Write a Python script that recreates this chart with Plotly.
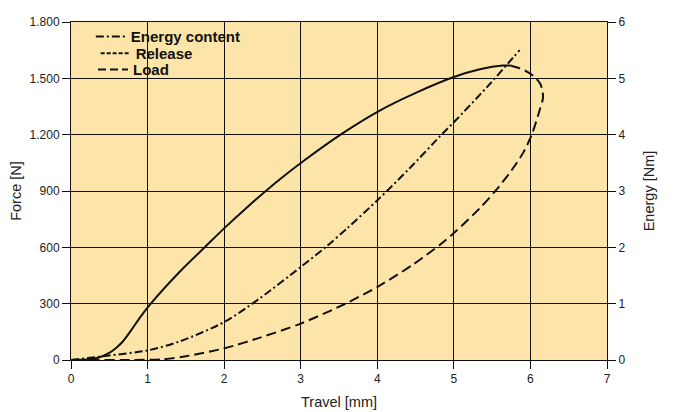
import plotly.graph_objects as go

# loading curve (solid)
load_x = [0, 0.2, 0.35, 0.5, 0.6, 0.68, 0.78, 0.9, 1.05, 1.42, 1.75, 2.01, 2.29, 2.54, 2.81, 3.01,
          3.53, 4.02, 4.51, 5.0, 5.34, 5.64, 5.74]
load_f = [0, 2, 12, 38, 68, 100, 155, 226, 304, 470, 602, 705, 810, 899, 989, 1052,
          1203, 1326, 1424, 1507, 1548, 1568, 1568]

# release curve (dashed) going back to origin
rel_x = [5.74, 5.86, 5.96, 6.04, 6.13, 6.165, 6.12, 6.02, 5.91, 5.75, 5.54, 5.34, 5.0, 4.82,
         4.47, 4.02, 3.57, 3.0, 2.46, 2.01, 1.5, 1.2, 0.8, 0.3, 0]
rel_f = [1568, 1553, 1535, 1512, 1470, 1400, 1330, 1203, 1107, 1008, 899, 809, 676, 614,
         509, 394, 297, 194, 118, 63, 20, 4, 0, 0, 0]

# energy content (right axis)
en_x = [0, 0.37, 0.5, 1.0, 1.42, 2.01, 2.46, 3.0, 3.34, 3.6, 4.02, 4.42, 4.86, 5.0, 5.47, 5.71, 5.86]
en_e = [0, 0.06, 0.08, 0.17, 0.33, 0.68, 1.09, 1.65, 2.02, 2.33, 2.86, 3.40, 4.03, 4.22, 4.90, 5.27, 5.50]

force_ticks = [0, 300, 600, 900, 1200, 1500, 1800]
force_labels = ['0', '300', '600', '900', '1.200', '1.500', '1.800']
energy_ticks = [0, 1, 2, 3, 4, 5, 6]
travel_ticks = [0, 1, 2, 3, 4, 5, 6, 7]

bg = '#FDE5AA'
ink = '#111111'
font = 'Liberation Sans, Arial, sans-serif'

fig = go.Figure()

fig.add_trace(go.Scatter(x=load_x, y=load_f, mode='lines', showlegend=False,
                         line=dict(color=ink, width=2, shape='spline', smoothing=0.8)))
fig.add_trace(go.Scatter(x=rel_x, y=rel_f, mode='lines', showlegend=False,
                         line=dict(color=ink, width=2, dash='10px,5px', shape='spline', smoothing=0.8)))
fig.add_trace(go.Scatter(x=en_x, y=en_e, mode='lines', yaxis='y2', name='Energy content',
                         legend='legend',
                         line=dict(color=ink, width=2, dash='8px,3px,2px,3px', shape='spline', smoothing=0.8)))
# legend-only entries, one small legend per row so the rows sit close together
fig.add_trace(go.Scatter(x=[None], y=[None], mode='lines', name='Release', legend='legend2',
                         line=dict(color=ink, width=2, dash='4px,2px')))
fig.add_trace(go.Scatter(x=[None], y=[None], mode='lines', name='Load', legend='legend3',
                         line=dict(color=ink, width=2, dash='8px,4px')))

# blank patch behind the legend that hides the grid there
fig.add_shape(type='rect', xref='paper', yref='paper', x0=0, x1=0.405, y0=0.828, y1=0.985,
              fillcolor=bg, line_width=0, layer='between')

axis_common = dict(showline=True, linecolor=ink, linewidth=1, ticks='outside', ticklen=8,
                   tickcolor=ink, automargin=False,
                   tickfont=dict(family=font, size=12, color='#222'))

leg = dict(xanchor='left', yanchor='middle', bgcolor='rgba(0,0,0,0)', borderwidth=0,
           itemwidth=30, font=dict(family=font, size=15, color=ink, weight='bold'))

# page body keeps an 8px margin, so the figure is 8px smaller than the window
fig.update_layout(
    width=665, height=404,
    margin=dict(l=63, r=66, t=12, b=52),
    paper_bgcolor='white', plot_bgcolor=bg,
    font=dict(family=font, color='#222'),
    xaxis=dict(range=[0, 7], tickvals=travel_ticks, showgrid=True, gridcolor=ink, gridwidth=1,
               mirror=True, zeroline=False,
               title=dict(text='Travel [mm]', font=dict(size=14.5), standoff=11), **axis_common),
    yaxis=dict(range=[0, 1800], tickvals=force_ticks, ticktext=force_labels, showgrid=True,
               gridcolor=ink, gridwidth=1, zeroline=False,
               title=dict(text='Force [N]', font=dict(size=14.5), standoff=6), **axis_common),
    yaxis2=dict(range=[0, 6], tickvals=energy_ticks, overlaying='y', side='right', showgrid=False,
                zeroline=False,
                title=dict(text='Energy [Nm]', font=dict(size=14.5), standoff=19), **axis_common),
    legend=dict(x=0.037, y=0.956, **leg),
    legend2=dict(x=0.046, y=0.907, **leg),
    legend3=dict(x=0.041, y=0.859, **leg),
)

fig.write_html('out.html')
